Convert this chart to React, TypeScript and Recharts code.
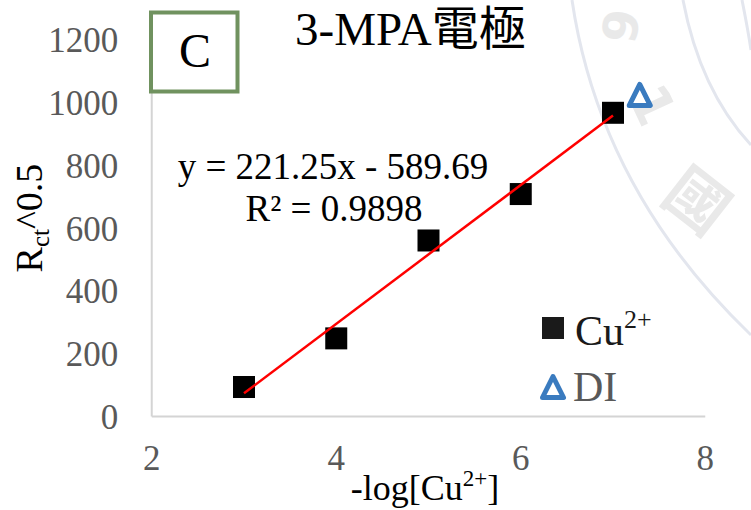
import React from 'react';
import { ScatterChart, Scatter, XAxis, YAxis } from 'recharts';

// ---- data ----
const cuX = [3, 4, 5, 6, 7];
const cuY = [94, 249, 561, 709, 968];
const diX = [7.29];
const diY = [1025];
const xTicks = [2, 4, 6, 8];
const yTicks = [0, 200, 400, 600, 800, 1000, 1200];
const fitSlope = 221.25;
const fitIntercept = -589.69;
const fitRange = [3, 7];
const titleText = '3-MPA電極';
const panelLabel = 'C';
const eqText = 'y = 221.25x - 589.69';
const r2Text = 'R² = 0.9898';
const cuLabel = 'Cu';
const cuSup = '2+';
const diLabel = 'DI';

const cuData = cuX.map((x, i) => ({ x, y: cuY[i] }));
const diData = diX.map((x, i) => ({ x, y: diY[i] }));
const fitData = fitRange.map((x) => ({ x, y: fitSlope * x + fitIntercept }));

const SERIF = "'Liberation Serif', 'Times New Roman', serif";
const TITLE_FONT = "'Liberation Serif', 'Noto Sans CJK TC', serif";
const BLUE = '#3a7bbf';
const GRAY = '#595959';

const Square = (props: any) => {
  const { cx, cy } = props;
  if (cx == null || cy == null) return <g />;
  return <rect x={cx - 11} y={cy - 11} width={22} height={22} fill="#000" />;
};

const triPath = (cx: number, cy: number) =>
  `M${cx},${cy - 10.5} L${cx + 10.5},${cy + 10.5} L${cx - 10.5},${cy + 10.5} Z`;

const Triangle = (props: any) => {
  const { cx, cy } = props;
  if (cx == null || cy == null) return <g />;
  return (
    <path d={triPath(cx, cy)} fill="#fff" stroke={BLUE} strokeWidth={5} strokeLinejoin="round" />
  );
};

const Empty = () => <g />;

const YLabel = () => (
  <text
    transform="translate(42,218) rotate(-90)"
    textAnchor="middle"
    fontFamily={SERIF}
    fontSize={38}
    fill="#000"
  >
    <tspan>R</tspan>
    <tspan fontSize={25} dy={7}>ct</tspan>
    <tspan dy={-7}>^0.5</tspan>
  </text>
);

const XLabel = () => (
  <text x={425} y={500} textAnchor="middle" fontFamily={SERIF} fontSize={36} fill="#000">
    <tspan>-log[Cu</tspan>
    <tspan fontSize={23} dy={-14}>2+</tspan>
    <tspan dy={14}>]</tspan>
  </text>
);

export default function App() {
  return (
    <div style={{ position: 'absolute', left: 0, top: 0, width: 751, height: 510, background: '#fff' }}>
      {/* faint background watermark */}
      <svg width={751} height={510} style={{ position: 'absolute', left: 0, top: 0 }}>
        <path d="M572,0 Q600,190 751,335" fill="none" stroke="#e3e6ee" strokeWidth={3} />
        <path d="M683,0 Q700,90 751,145" fill="none" stroke="#e3e6ee" strokeWidth={3} />
        <path d="M742,0 Q748,30 751,50" fill="none" stroke="#e3e6ee" strokeWidth={3} />
        <text x={0} y={0} transform="translate(620,26) rotate(100)" textAnchor="middle" dominantBaseline="central"
          fontFamily="'DejaVu Sans', sans-serif" fontWeight="bold" fontSize={48} fill="#e9e9e9">6</text>
        <text x={0} y={0} transform="translate(652,105) rotate(65)" textAnchor="middle" dominantBaseline="central"
          fontFamily="'DejaVu Sans', sans-serif" fontWeight="bold" fontSize={54} fill="#e9e9e9">1</text>
        <text x={0} y={0} transform="translate(700,197) rotate(38)" textAnchor="middle" dominantBaseline="central"
          fontFamily="'Noto Sans CJK TC', sans-serif" fontWeight="bold" fontSize={62} fill="#e9e9e9">國</text>
      </svg>
      <div style={{ position: 'absolute', left: 0, top: 0 }}>
        <ScatterChart width={751} height={510} margin={{ top: 40, right: 45.75, bottom: 33.5, left: 0 }}>
          <XAxis
            type="number"
            dataKey="x"
            domain={[2, 8]}
            ticks={xTicks}
            allowDataOverflow
            height={60}
            tickLine={false}
            tickSize={0}
            tickMargin={29}
            axisLine={{ stroke: '#d4d4d4', strokeWidth: 2 }}
            tick={{ fill: GRAY, fontSize: 35, fontFamily: SERIF }}
            label={<XLabel />}
          />
          <YAxis
            type="number"
            dataKey="y"
            domain={[0, 1200]}
            ticks={yTicks}
            allowDataOverflow
            width={151.75}
            tickLine={false}
            tickSize={0}
            tickMargin={33.5}
            axisLine={{ stroke: '#d4d4d4', strokeWidth: 2 }}
            tick={{ fill: GRAY, fontSize: 35, fontFamily: SERIF }}
            label={<YLabel />}
          />
          <Scatter name="Cu2+" data={cuData} shape={<Square />} isAnimationActive={false} />
          <Scatter
            name="fit"
            data={fitData}
            line={{ stroke: '#ff0000', strokeWidth: 2.5 }}
            shape={<Empty />}
            isAnimationActive={false}
            legendType="none"
          />
          <Scatter name="DI" data={diData} shape={<Triangle />} isAnimationActive={false} />
        </ScatterChart>
      </div>
      {/* annotations on top */}
      <svg width={751} height={510} style={{ position: 'absolute', left: 0, top: 0, pointerEvents: 'none' }}>
        <rect x={151} y={12.5} width={86.5} height={79} fill="#fff" stroke="#70925f" strokeWidth={4} />
        <text x={195} y={67} textAnchor="middle" fontFamily={SERIF} fontSize={48} fill="#000">{panelLabel}</text>
        <text x={295} y={45} textAnchor="start" fontFamily={TITLE_FONT} fontSize={47} fill="#000">{titleText}</text>
        <text x={333} y={179} textAnchor="middle" fontFamily={SERIF} fontSize={37} fill="#000">{eqText}</text>
        <text x={334} y={221} textAnchor="middle" fontFamily={SERIF} fontSize={37} fill="#000">{r2Text}</text>
        {/* legend */}
        <rect x={542} y={317} width={22} height={22} fill="#1a1a1a" />
        <text x={575} y={345} fontFamily={SERIF} fontSize={42} fill="#1a1a1a">
          <tspan>{cuLabel}</tspan>
          <tspan fontSize={26} dy={-17}>{cuSup}</tspan>
        </text>
        <path d={triPath(553, 387)} fill="#fff" stroke={BLUE} strokeWidth={5} strokeLinejoin="round" />
        <text x={573} y={401} fontFamily={SERIF} fontSize={42} fill={GRAY}>{diLabel}</text>
      </svg>
    </div>
  );
}
